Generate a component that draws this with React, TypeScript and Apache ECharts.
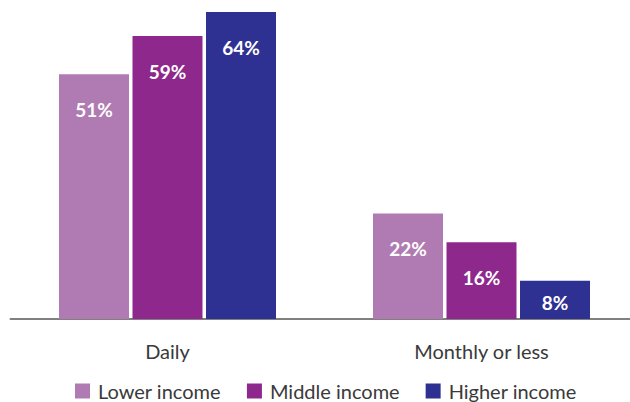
import React, { useEffect, useRef } from "react";
import * as echarts from "echarts";

const categories = ["Daily", "Monthly or less"];
const seriesNames = ["Lower income", "Middle income", "Higher income"];
const lowerIncome = [51, 22];
const middleIncome = [59, 16];
const higherIncome = [64, 8];
const colors = ["#B07AB2", "#8F288D", "#2F3192"];

const seriesValues = [lowerIncome, middleIncome, higherIncome];

export default function App() {
  const ref = useRef<HTMLDivElement>(null);
  useEffect(() => {
    if (!ref.current) return;
    const chart = echarts.init(ref.current, null, { renderer: "svg" });
    const font = "Lato, 'Open Sans', sans-serif";
    chart.setOption({
      animation: false,
      grid: { left: 10.5, top: 12, bottom: 83, width: 628 },
      legend: {
        left: 75,
        top: 381,
        padding: 0,
        itemWidth: 15,
        itemHeight: 15,
        itemGap: 26,
        icon: "rect",
        data: seriesNames,
        textStyle: { fontFamily: font, fontSize: 20, lineHeight: 20, color: "#3a3a3a", padding: [0, 0, 0, 3] },
      },
      xAxis: {
        type: "category",
        data: categories,
        axisLine: { lineStyle: { color: "#808080", width: 2 } },
        axisTick: { show: false },
        axisLabel: { fontFamily: font, fontSize: 20, color: "#3a3a3a", margin: 22 },
      },
      yAxis: {
        type: "value",
        min: 0,
        max: 64,
        show: false,
        splitLine: { show: false },
      },
      series: seriesNames.map((name, i) => ({
        name,
        type: "bar",
        barWidth: 70,
        barGap: "5%",
        itemStyle: { color: colors[i] },
        data: seriesValues[i].map((v) => ({
          value: v,
          label:
            v < 12
              ? { position: "inside", offset: [0, 3] }
              : { position: "insideTop", distance: 26 },
        })),
        label: {
          show: true,
          formatter: "{c}%",
          color: "#ffffff",
          fontFamily: font,
          fontWeight: "bold",
          fontSize: 19,
        },
      })),
    });
    return () => chart.dispose();
  }, []);
  return (
    <div style={{ width: 630, height: 402, position: "absolute", left: 0, top: 0, overflow: "hidden" }}>
      <div ref={ref} style={{ width: 650, height: 402 }} />
    </div>
  );
}
